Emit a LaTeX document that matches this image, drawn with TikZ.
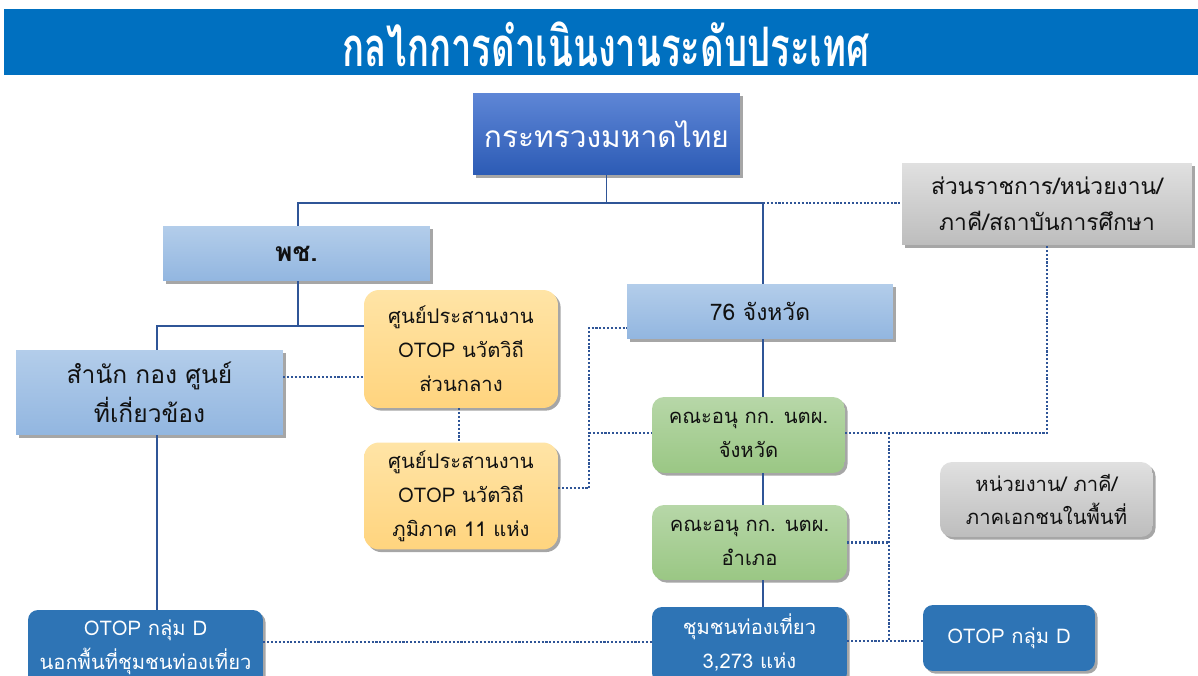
\documentclass[tikz,border=0pt]{standalone}
\usepackage{fontspec}
\setmainfont[Script=Thai]{Loma}
\usetikzlibrary{shadows}
\definecolor{titlebg}{HTML}{0070C0}
\definecolor{linec}{HTML}{2F5597}
\definecolor{topA}{HTML}{5E86D6}
\definecolor{topB}{HTML}{2C5BB5}
\definecolor{lbA}{HTML}{B3CDEA}
\definecolor{lbB}{HTML}{92B6E0}
\definecolor{orA}{HTML}{FFE4A6}
\definecolor{orB}{HTML}{FFD47E}
\definecolor{grA}{HTML}{B7D7A8}
\definecolor{grB}{HTML}{9AC784}
\definecolor{gyA}{HTML}{E0E0E0}
\definecolor{gyB}{HTML}{BDBDBD}
\definecolor{dkblue}{HTML}{2E74B5}
\definecolor{txt}{HTML}{111111}
\tikzset{
  shad/.style={drop shadow={shadow xshift=1.5pt,shadow yshift=-1.5pt,opacity=0.35,fill=black}},
  bx/.style={shad,inner sep=2pt,align=center,text=txt,font=\fontsize{11.5}{19.3}\selectfont},
  topbox/.style={bx,top color=topA,bottom color=topB,text=white,font=\fontsize{17}{20}\selectfont},
  lbbox/.style={bx,top color=lbA,bottom color=lbB},
  orbox/.style={bx,top color=orA,bottom color=orB,rounded corners=0.3cm},
  grbox/.style={bx,top color=grA,bottom color=grB,rounded corners=0.24cm},
  gybox/.style={bx,top color=gyA,bottom color=gyB},
  dkbox/.style={bx,fill=dkblue,text=white,rounded corners=0.2cm},
  conn/.style={draw=linec,line width=1.1pt},
  dotc/.style={draw=linec,line width=1.3pt,dash pattern=on 1.2pt off 1.0pt},
}
\begin{document}
\begin{tikzpicture}[x=0.02cm,y=-0.02cm]
\useasboundingbox (0,0) rectangle (1198,676);
\clip (0,0) rectangle (1198,676);
% title
\fill[titlebg] (4,9) rectangle (1198,75);
\node[text=white,font=\fontsize{31}{34}\selectfont\bfseries] (title) at (606,44) {\scalebox{0.67}[1]{กลไกการดำเนินงานระดับประเทศ}};
% nodes
\node[topbox,minimum width=5.34cm,minimum height=1.64cm] (top) at (606.5,134) {กระทรวงมหาดไทย};
\node[lbbox,minimum width=5.34cm,minimum height=1.10cm,font=\fontsize{15}{18}\selectfont\bfseries] (pch) at (296.5,253.5) {พช.};
\node[lbbox,minimum width=5.34cm,minimum height=1.70cm,font=\fontsize{14}{22}\selectfont] (samnak) at (149.5,392.5) {สำนัก กอง ศูนย์\\ที่เกี่ยวข้อง};
\node[orbox,minimum width=3.88cm,minimum height=2.36cm] (or1) at (461,349) {ศูนย์ประสานงาน\\OTOP นวัตวิถี\\ส่วนกลาง};
\node[orbox,minimum width=3.88cm,minimum height=2.14cm] (or2) at (461,496) {ศูนย์ประสานงาน\\OTOP นวัตวิถี\\ภูมิภาค 11 แห่ง};
\node[lbbox,minimum width=5.32cm,minimum height=1.10cm,font=\fontsize{13}{18}\selectfont] (p76) at (760,311.5) {76 จังหวัด};
\node[grbox,minimum width=3.86cm,minimum height=1.52cm] (gr1) at (748.5,435) {คณะอนุ กก. นตผ.\\จังหวัด};
\node[grbox,minimum width=3.90cm,minimum height=1.50cm] (gr2) at (749.5,542.5) {คณะอนุ กก. นตผ.\\อำเภอ};
\node[dkbox,minimum width=3.90cm,minimum height=1.52cm] (blue1) at (749.5,645) {ชุมชนท่องเที่ยว\\3,273 แห่ง\rule[-4pt]{0pt}{0pt}};
\node[gybox,minimum width=5.80cm,minimum height=1.64cm,font=\fontsize{13}{20.5}\selectfont] (gray1) at (1047,204) {ส่วนราชการ/หน่วยงาน/\\ภาคี/สถาบันการศึกษา};
\node[gybox,rounded corners=0.24cm,minimum width=4.26cm,minimum height=1.50cm] (gray2) at (1046.5,499.5) {หน่วยงาน/ ภาคี/\\ภาคเอกชนในพื้นที่};
\node[dkbox,minimum width=3.44cm,minimum height=1.32cm] (otopR) at (1009,638) {OTOP กลุ่ม D};
\node[dkbox,minimum width=4.70cm,minimum height=1.52cm] (otopL) at (145.5,648) {OTOP กลุ่ม D\\นอกพื้นที่ชุมชนท่องเที่ยว\rule[-4pt]{0pt}{0pt}};
% helper coordinates
\coordinate (hr) at (763,203);
\coordinate (h2) at (157,326);
\coordinate (v2) at (298,326);
\coordinate (dl) at (283,377);
\coordinate (dv) at (459,400);
\coordinate (a1) at (589,488);
\coordinate (a2) at (589,328);
\coordinate (a3) at (589,433);
\coordinate (b1) at (1047,433);
\coordinate (c1) at (889,433);
\coordinate (c2) at (889,641);
\coordinate (dl2) at (263,642);
% solid connectors
\draw[conn] (top.south) -- (top.south |- hr);
\draw[conn] (pch.north -| v2) |- (hr) -- (p76.north -| hr);
\draw[conn] (pch.south -| v2) -- (v2);
\draw[conn] (samnak.north -| h2) |- (or1.west |- h2);
\draw[conn] (samnak.south -| h2) -- (otopL.north -| h2);
\draw[conn] (p76.south -| hr) -- (gr1.north -| hr);
\draw[conn] (gr1.south -| hr) -- (gr2.north -| hr);
\draw[conn] (gr2.south -| hr) -- (blue1.north -| hr);
% dotted connectors
\draw[dotc] (hr) -- (gray1.west |- hr);
\draw[dotc] (samnak.east |- dl) -- (or1.west |- dl);
\draw[dotc] (or1.south -| dv) -- (or2.north -| dv);
\draw[dotc] (or2.east |- a1) -- (a1) -- (a2) -- (p76.west |- a2);
\draw[dotc] (a3) -- (gr1.west |- a3);
\draw[dotc] (gr1.east |- b1) -| (gray1.south);
\draw[dotc] (c1) -- (c2);
\draw[dotc] (gr2.east) -- (gr2.east -| c1);
\draw[dotc] (blue1.east |- c2) -- (otopR.west |- c2);
\draw[dotc] (otopL.east |- dl2) -- (blue1.west |- dl2);
\end{tikzpicture}
\end{document}
